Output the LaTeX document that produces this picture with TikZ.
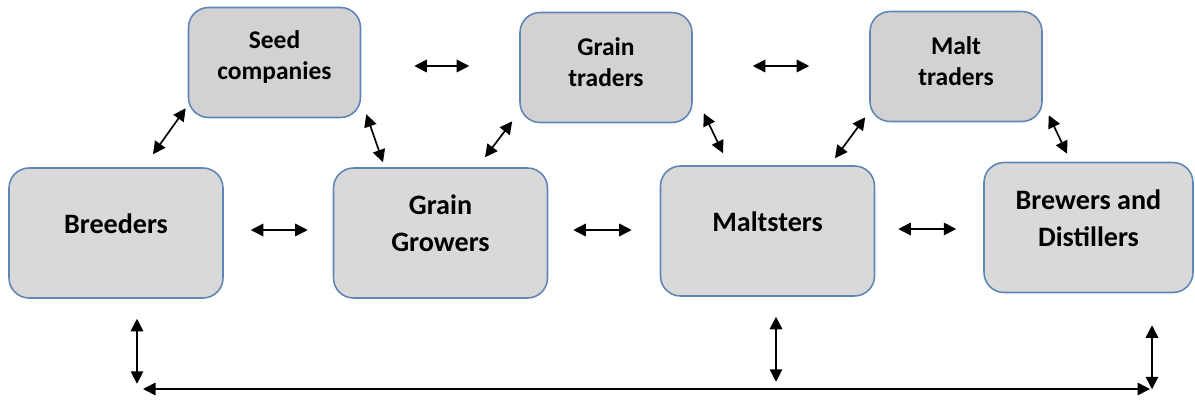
\documentclass[tikz,border=0pt]{standalone}
\usepackage{fontspec}
\setmainfont{Carlito}
\usetikzlibrary{arrows.meta}
\definecolor{boxfill}{HTML}{D9D9D9}
\definecolor{topfill}{HTML}{D3D1D1}
\definecolor{boxline}{HTML}{5E86B6}

\begin{document}
\begin{tikzpicture}[x=0.02cm, y=-0.02cm,
  box/.style={draw=boxline, line width=0.9pt, rounded corners=0.4cm, inner sep=0pt},
  bigbox/.style={box, fill=boxfill, minimum width=4.28cm, minimum height=2.6cm,
    label={[font=\bfseries\fontsize{16}{21}\selectfont, align=center, yshift=5.5pt]center:#1}},
  smallbox/.style={box, fill=topfill, minimum width=3.44cm, minimum height=2.2cm,
    label={[font=\bfseries\fontsize{14.5}{18}\selectfont, align=center, yshift=3pt]center:#1}},
  dbl/.style={{Triangle[length=2.5mm,width=2.5mm]}-{Triangle[length=2.5mm,width=2.5mm]}, line width=0.95pt}]
\useasboundingbox (0,0) rectangle (1195,402);

% top row
\node[smallbox={Seed\\companies}] (seed) at (274.5,62.5) {};
\node[smallbox={Grain\\traders}] (gtrade) at (606,67.5) {};
\node[smallbox={Malt\\traders}] (mtrade) at (956,66.5) {};

% main chain
\node[bigbox={Breeders}] (breed) at (116,233) {};
\node[bigbox={Grain\\Growers}] (grow) at (440.5,233) {};
\node[bigbox={Maltsters}] (malt) at (767.5,231) {};
\node[bigbox={Brewers and\\Distillers}, minimum width=4.18cm] (brew) at (1088.5,227.5) {};

\draw[dbl] ([shift={(27,-3)}]breed.east) -- ([shift={(-25,-3)}]grow.west);
\draw[dbl] ([shift={(25,-3)}]grow.east) -- ([shift={(-28,-1)}]malt.west);
\draw[dbl] ([shift={(23,-2)}]malt.east) -- ([shift={(-27,1.5)}]brew.west);

\draw[dbl] ([shift={(53,3.5)}]seed.east) -- ([shift={(-50,-1.5)}]gtrade.west);
\draw[dbl] ([shift={(60,-1.5)}]gtrade.east) -- ([shift={(-60,-0.5)}]mtrade.west);

\draw[dbl] ([shift={(-2,-10)}]seed.south west) -- ([shift={(37,-13)}]breed.north);
\draw[dbl] ([shift={(5,-4)}]seed.south east) -- ([shift={(-57.5,-5)}]grow.north);
\draw[dbl] ([shift={(-7,-2)}]gtrade.south west) -- ([shift={(44.5,-10)}]grow.north);
\draw[dbl] ([shift={(11,-10)}]gtrade.south east) -- ([shift={(-44.5,-12)}]malt.north);
\draw[dbl] ([shift={(-4,-5)}]mtrade.south west) -- ([shift={(67.5,-7)}]malt.north);
\draw[dbl] ([shift={(6,-7)}]mtrade.south east) -- ([shift={(-21.5,-8)}]brew.north);

% bottom link
\coordinate (busL) at (143,389);
\coordinate (busR) at (1150,389);
\draw[dbl] ([shift={(21,20)}]breed.south) -- ++(0,65);
\draw[dbl] ([shift={(8.5,20)}]malt.south) -- ++(0,65);
\draw[dbl] ([shift={(63.5,32)}]brew.south) -- ++(0,64);
\draw[dbl] (busL) -- (busR);

\end{tikzpicture}
\end{document}
